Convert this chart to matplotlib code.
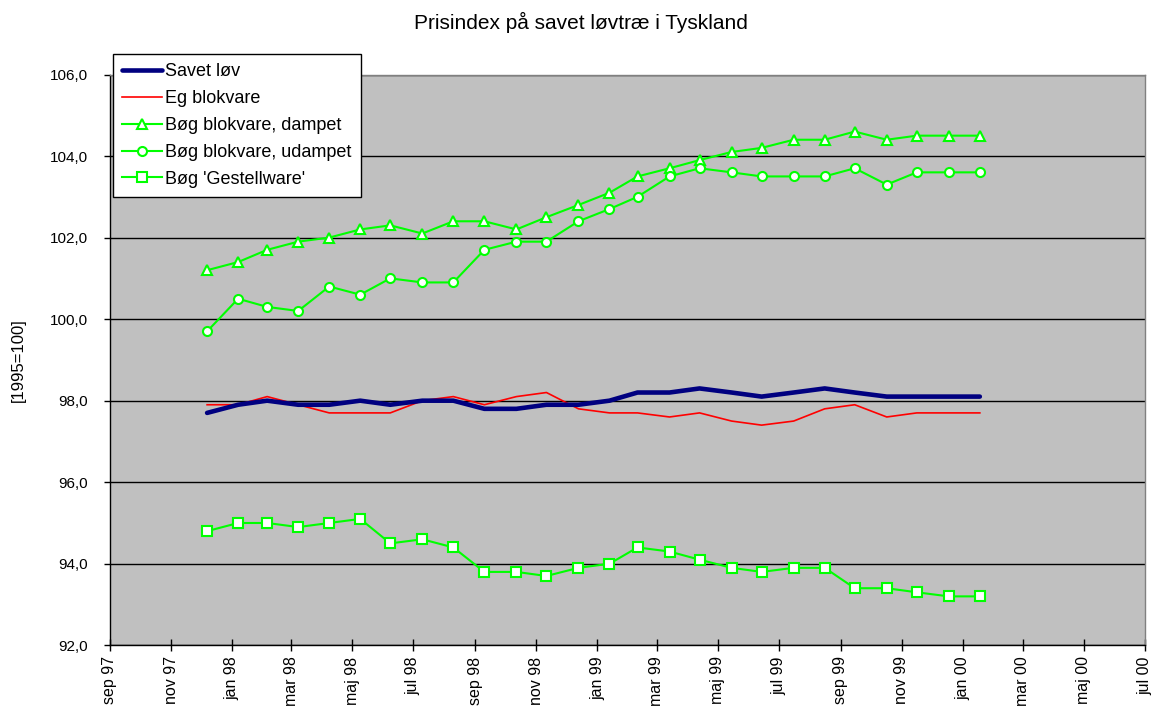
import matplotlib
matplotlib.use("Agg")
import matplotlib.pyplot as plt
import numpy as np
import pandas as pd

plt.rcParams['font.family'] = ['Liberation Sans', 'DejaVu Sans']

dates = pd.to_datetime([
    "1997-12-07", "1998-01-07", "1998-02-05", "1998-03-08", "1998-04-08", "1998-05-09",
    "1998-06-08", "1998-07-10", "1998-08-10", "1998-09-10", "1998-10-12", "1998-11-11",
    "1998-12-13", "1999-01-13", "1999-02-10", "1999-03-14", "1999-04-13", "1999-05-15",
    "1999-06-14", "1999-07-16", "1999-08-16", "1999-09-15", "1999-10-17", "1999-11-16",
    "1999-12-18", "2000-01-18"])

savet_lov = [97.7, 97.9, 98.0, 97.9, 97.9, 98.0, 97.9, 98.0, 98.0, 97.8, 97.8, 97.9, 97.9,
             98.0, 98.2, 98.2, 98.3, 98.2, 98.1, 98.2, 98.3, 98.2, 98.1, 98.1, 98.1, 98.1]
eg_blokvare = [97.9, 97.9, 98.1, 97.9, 97.7, 97.7, 97.7, 98.0, 98.1, 97.9, 98.1, 98.2, 97.8,
               97.7, 97.7, 97.6, 97.7, 97.5, 97.4, 97.5, 97.8, 97.9, 97.6, 97.7, 97.7, 97.7]
bog_dampet = [101.2, 101.4, 101.7, 101.9, 102.0, 102.2, 102.3, 102.1, 102.4, 102.4, 102.2, 102.5, 102.8,
              103.1, 103.5, 103.7, 103.9, 104.1, 104.2, 104.4, 104.4, 104.6, 104.4, 104.5, 104.5, 104.5]
bog_udampet = [99.7, 100.5, 100.3, 100.2, 100.8, 100.6, 101.0, 100.9, 100.9, 101.7, 101.9, 101.9, 102.4,
               102.7, 103.0, 103.5, 103.7, 103.6, 103.5, 103.5, 103.5, 103.7, 103.3, 103.6, 103.6, 103.6]
bog_gestell = [94.8, 95.0, 95.0, 94.9, 95.0, 95.1, 94.5, 94.6, 94.4, 93.8, 93.8, 93.7, 93.9,
               94.0, 94.4, 94.3, 94.1, 93.9, 93.8, 93.9, 93.9, 93.4, 93.4, 93.3, 93.2, 93.2]

series_labels = ["Savet løv", "Eg blokvare", "Bøg blokvare, dampet",
                 "Bøg blokvare, udampet", "Bøg 'Gestellware'"]
month_names = ["jan", "feb", "mar", "apr", "maj", "jun", "jul", "aug", "sep", "okt", "nov", "dec"]
tick_dates = pd.date_range("1997-09-01", "2000-07-01", freq="2MS")
y_ticks = np.arange(92, 106.1, 2)

fig = plt.figure(figsize=(11.56, 7.11), dpi=100)
ax = fig.add_axes([110/1156, 1-645.3/711, (1145-110)/1156, (645.3-74.5)/711])
ax.set_facecolor("#C0C0C0")

green = "#00FF00"
ax.plot(dates, savet_lov, color="#000080", lw=3.3, label=series_labels[0], zorder=5,
        solid_capstyle="round")
ax.plot(dates, eg_blokvare, color="#FF0000", lw=1.2, label=series_labels[1], zorder=4)
ax.plot(dates, bog_dampet, color=green, lw=1.5, marker="^", ms=6.5, mfc="white", mec=green,
        mew=1.5, label=series_labels[2], zorder=4)
ax.plot(dates, bog_udampet, color=green, lw=1.5, marker="o", ms=6.5, mfc="white", mec=green,
        mew=1.5, label=series_labels[3], zorder=4)
ax.plot(dates, bog_gestell, color=green, lw=1.5, marker="s", ms=6.5, mfc="white", mec=green,
        mew=1.5, label=series_labels[4], zorder=4)

ax.set_xlim(tick_dates[0], tick_dates[-1])
ax.set_ylim(92, 106)
ax.set_yticks(y_ticks)
ax.set_yticklabels([f"{v:.1f}".replace(".", ",") for v in y_ticks], fontsize=11)
ax.set_xticks(tick_dates)
ax.set_xticklabels([f"{month_names[d.month-1]} {d.year % 100:02d}" for d in tick_dates],
                   rotation=90, fontsize=11.5, va="top")
ax.tick_params(axis="x", direction="inout", length=8, width=1, pad=4)
ax.tick_params(axis="y", direction="out", length=4, width=1, pad=12)
ax.yaxis.grid(True, color="black", lw=1)
ax.set_axisbelow(True)
for s in ["top", "right"]:
    ax.spines[s].set_color("#808080")
    ax.spines[s].set_linewidth(1)
for s in ["left", "bottom"]:
    ax.spines[s].set_color("black")
    ax.spines[s].set_linewidth(1)

ax.set_ylabel("[1995=100]", fontsize=12)
ax.yaxis.set_label_coords((26-110)/1035, 0.5)
fig.text(581/1156, 1-22/711, "Prisindex på savet løvtræ i Tyskland", ha="center", va="center",
         fontsize=15)

leg = ax.legend(loc="upper left", bbox_to_anchor=(113/1156, 1-54/711), bbox_transform=fig.transFigure,
                fontsize=13, frameon=True, fancybox=False, shadow=False, framealpha=1,
                edgecolor="black", borderpad=0.5, labelspacing=0.55, handlelength=2.2,
                handletextpad=0.2, borderaxespad=0)
leg.get_frame().set_linewidth(1)
leg.set_zorder(10)

fig.savefig("out.png", dpi=100)
